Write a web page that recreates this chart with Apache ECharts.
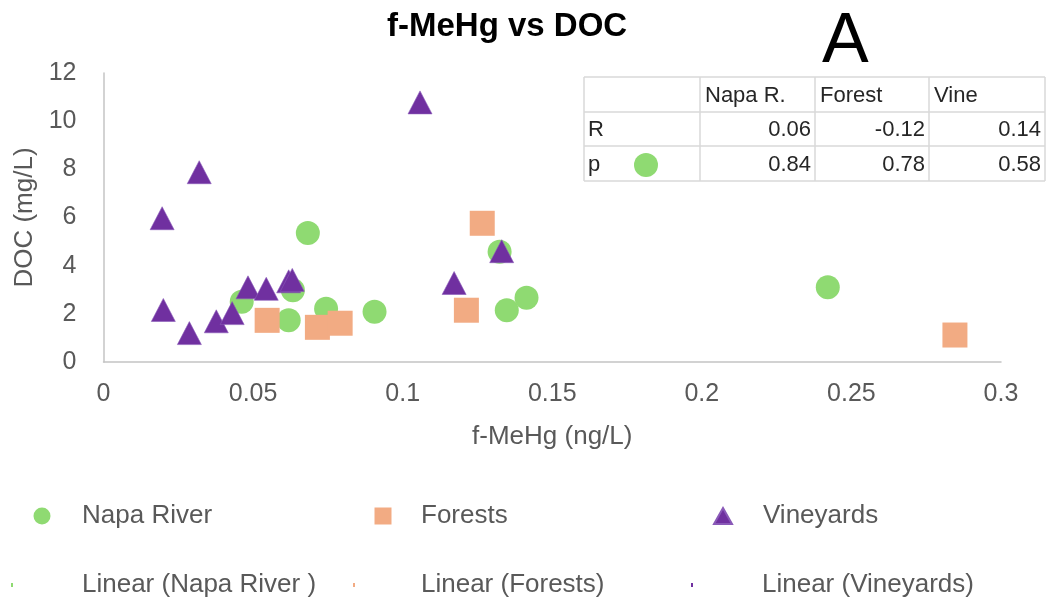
<!DOCTYPE html>
<html>
<head>
<meta charset="utf-8">
<script src="https://cdn.jsdelivr.net/npm/echarts@6/dist/echarts.min.js"></script>
<style>
html,body{margin:0;padding:0;background:#fff;}
#chart{width:1049px;height:602px;}
</style>
</head>
<body>
<div id="chart"></div>
<script>
// ---- data ----
const napaX = [0.0683, 0.0462, 0.0633, 0.0619, 0.0744, 0.0906, 0.1324, 0.1348, 0.1414, 0.2421];
const napaY = [5.36, 2.50, 2.98, 1.73, 2.21, 2.09, 4.58, 2.15, 2.67, 3.10];
const forestX = [0.0547, 0.0715, 0.0791, 0.1266, 0.1213, 0.2846];
const forestY = [1.73, 1.44, 1.61, 5.76, 2.15, 1.12];
const vineX = [0.1058, 0.0320, 0.0196, 0.0200, 0.0287, 0.0377, 0.0430, 0.0483, 0.0544, 0.0619, 0.0631, 0.1172, 0.1331];
const vineY = [10.78, 7.88, 5.97, 2.16, 1.20, 1.69, 2.03, 3.10, 3.04, 3.35, 3.41, 3.28, 4.60];

const seriesNames = ['Napa River', 'Forests', 'Vineyards'];
const trendNames = ['Linear (Napa River )', 'Linear (Forests)', 'Linear (Vineyards)'];

const tableHeader = ['', 'Napa R.', 'Forest', 'Vine'];
const tableRowLabels = ['R', 'p'];
const tableR = ['0.06', '-0.12', '0.14'];
const tableP = ['0.84', '0.78', '0.58'];

const xTicks = [0, 0.05, 0.1, 0.15, 0.2, 0.25, 0.3];
const yTicks = [0, 2, 4, 6, 8, 10, 12];

// ---- styles ----
const FONT = "'Liberation Sans', Arial, sans-serif";
const GREEN = '#8fda72';
const ORANGE = '#f2ab83';
const PURPLE = '#7030a0';
const TXT = '#595959';

function zip(xs, ys) { return xs.map((x, i) => [x, ys[i]]); }

// ---- table graphics ----
const colEdges = [584, 700, 815, 929, 1045];
const rowEdges = [77, 112, 146, 181];
const tableGraphics = [];
const lineStyle = { stroke: '#d9d9d9', lineWidth: 1.5 };
rowEdges.forEach(y => tableGraphics.push({ type: 'line', shape: { x1: colEdges[0], y1: y, x2: colEdges[4], y2: y }, style: lineStyle, silent: true }));
colEdges.forEach(x => tableGraphics.push({ type: 'line', shape: { x1: x, y1: rowEdges[0], x2: x, y2: rowEdges[3] }, style: lineStyle, silent: true }));
const cellFont = { fontSize: 22, fontFamily: FONT, fill: '#262626' };
tableHeader.forEach((h, i) => {
  if (!h) return;
  tableGraphics.push({ type: 'text', x: colEdges[i] + 5, y: (rowEdges[0] + rowEdges[1]) / 2 + 1,
    style: Object.assign({ text: h, textAlign: 'left', textVerticalAlign: 'middle' }, cellFont), silent: true });
});
[tableR, tableP].forEach((vals, r) => {
  const cy = (rowEdges[r + 1] + rowEdges[r + 2]) / 2 + 1;
  tableGraphics.push({ type: 'text', x: colEdges[0] + 4, y: cy,
    style: Object.assign({ text: tableRowLabels[r], textAlign: 'left', textVerticalAlign: 'middle' }, cellFont), silent: true });
  vals.forEach((v, c) => {
    tableGraphics.push({ type: 'text', x: colEdges[c + 2] - 4, y: cy,
      style: Object.assign({ text: v, textAlign: 'right', textVerticalAlign: 'middle' }, cellFont), silent: true });
  });
});
// stray green marker in the table
tableGraphics.push({ type: 'circle', shape: { cx: 646, cy: 165, r: 12 }, style: { fill: GREEN }, silent: true });

// ---- legends ----
function legendItem(name, left, centerY, icon, w, h, color, textStart) {
  return {
    data: [{ name: name, icon: icon, itemStyle: { color: color } }],
    left: left, top: centerY - 14, padding: 0,
    itemWidth: w, itemHeight: h,
    selectedMode: false,
    textStyle: { fontSize: 26, fontFamily: FONT, color: TXT, padding: [0, 0, 0, textStart - (left + w + 5)] }
  };
}
const legends = [
  legendItem(seriesNames[0], 33.5, 517, 'circle', 17, 17, GREEN, 82),
  legendItem(seriesNames[1], 374.5, 517, 'rect', 17, 17, ORANGE, 421),
  legendItem(seriesNames[2], 713, 517, 'triangle', 18, 16, PURPLE, 762),
  legendItem(trendNames[0], 11, 586, 'rect', 2, 4, GREEN, 82),
  legendItem(trendNames[1], 353, 586, 'rect', 2, 4, ORANGE, 421),
  legendItem(trendNames[2], 691, 586, 'rect', 2, 4, PURPLE, 762)
];

const chart = echarts.init(document.getElementById('chart'));
chart.setOption({
  backgroundColor: '#fff',
  animation: false,
  title: [
    { text: 'f-MeHg vs DOC', left: 387, top: 10, padding: 0,
      textStyle: { fontSize: 33, fontWeight: 'bold', fontFamily: FONT, color: '#000' } },
    { text: 'A', left: 822, top: 8, padding: 0,
      textStyle: { fontSize: 70, fontWeight: 'normal', fontFamily: FONT, color: '#000' } }
  ],
  grid: { left: 103.5, right: 48, top: 73, bottom: 240, containLabel: false },
  xAxis: {
    type: 'value', min: xTicks[0], max: xTicks[xTicks.length - 1], interval: 0.05,
    name: 'f-MeHg (ng/L)', nameLocation: 'middle', nameGap: 62,
    nameTextStyle: { fontSize: 26, fontFamily: FONT, color: TXT },
    axisLine: { show: true, lineStyle: { color: '#c4c4c4', width: 1.5 } },
    axisTick: { show: false },
    splitLine: { show: false },
    axisLabel: { fontSize: 25, fontFamily: FONT, color: TXT, margin: 20,
      formatter: v => String(+v.toFixed(2)) }
  },
  yAxis: {
    type: 'value', min: yTicks[0], max: yTicks[yTicks.length - 1], interval: 2,
    name: 'DOC (mg/L)', nameLocation: 'middle', nameGap: 62,
    nameTextStyle: { fontSize: 26, fontFamily: FONT, color: TXT },
    axisLine: { show: true, lineStyle: { color: '#c4c4c4', width: 1.5 } },
    axisTick: { show: false },
    splitLine: { show: false },
    axisLabel: { fontSize: 25, fontFamily: FONT, color: TXT, margin: 27 }
  },
  legend: legends,
  graphic: tableGraphics,
  series: [
    { name: seriesNames[0], type: 'scatter', symbol: 'circle', symbolSize: 24,
      itemStyle: { color: GREEN, opacity: 1 }, data: zip(napaX, napaY), z: 2 },
    { name: seriesNames[1], type: 'scatter', symbol: 'rect', symbolSize: 25,
      itemStyle: { color: ORANGE, opacity: 1 }, data: zip(forestX, forestY), z: 3 },
    { name: seriesNames[2], type: 'scatter', symbol: 'triangle', symbolSize: [24, 23],
      itemStyle: { color: PURPLE, opacity: 1, borderColor: '#8a5ab8', borderWidth: 0.6 }, data: zip(vineX, vineY), z: 4 },
    { name: trendNames[0], type: 'line', data: [], itemStyle: { color: GREEN }, lineStyle: { color: GREEN, width: 1 } },
    { name: trendNames[1], type: 'line', data: [], itemStyle: { color: ORANGE }, lineStyle: { color: ORANGE, width: 1 } },
    { name: trendNames[2], type: 'line', data: [], itemStyle: { color: PURPLE }, lineStyle: { color: PURPLE, width: 1 } }
  ]
});
</script>
</body>
</html>
